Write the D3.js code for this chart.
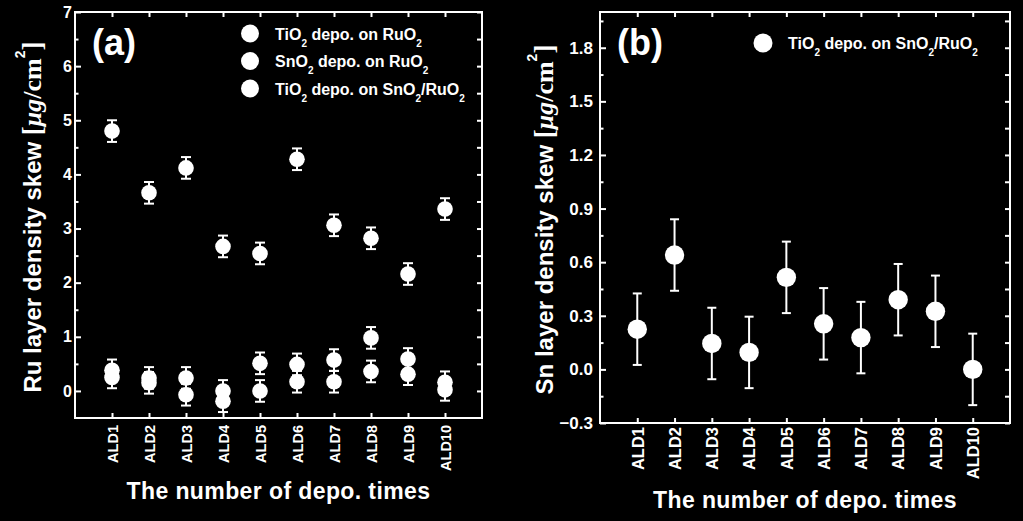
<!DOCTYPE html>
<html><head><meta charset="utf-8">
<script src="https://cdn.jsdelivr.net/npm/d3@7"></script>
<style>html,body{margin:0;padding:0;background:#000;} svg{display:block;}</style>
</head><body>
<svg id="chart" width="1023" height="521"></svg>
<script>
// ---------- DATA ----------
const categories = ["ALD1","ALD2","ALD3","ALD4","ALD5","ALD6","ALD7","ALD8","ALD9","ALD10"];

// Panel (a): Ru layer density skew [ug/cm2]
const ruTiO2OnRuO2      = [4.80, 3.66, 4.12, 2.67, 2.54, 4.28, 3.06, 2.82, 2.16, 3.36];
const ruTiO2OnRuO2Err   = [0.20, 0.20, 0.20, 0.20, 0.20, 0.20, 0.20, 0.20, 0.20, 0.20];
const ruSnO2OnRuO2      = [0.38, 0.24, 0.24, 0.00, 0.51, 0.49, 0.57, 0.98, 0.59, 0.16];
const ruSnO2OnRuO2Err   = [0.20, 0.20, 0.20, 0.20, 0.20, 0.20, 0.20, 0.20, 0.20, 0.20];
const ruTiO2OnSnO2      = [0.25, 0.15, -0.07, -0.19, 0.00, 0.17, 0.17, 0.36, 0.31, 0.02];
const ruTiO2OnSnO2Err   = [0.20, 0.20, 0.20, 0.20, 0.20, 0.20, 0.20, 0.20, 0.20, 0.20];

// Panel (b): Sn layer density skew [ug/cm2]
const snTiO2OnSnO2      = [0.225, 0.64, 0.145, 0.095, 0.515, 0.255, 0.178, 0.39, 0.325, 0.00];
const snTiO2OnSnO2Err   = [0.20, 0.20, 0.20, 0.20, 0.20, 0.20, 0.20, 0.20, 0.20, 0.20];

// Tick values
const aYDomain = [-0.5, 7];
const aYMajor = [0, 1, 2, 3, 4, 5, 6, 7];
const aYMinor = [0.5, 1.5, 2.5, 3.5, 4.5, 5.5, 6.5];
const bYDomain = [-0.3, 2.0];
const bYMajor = [-0.3, 0.0, 0.3, 0.6, 0.9, 1.2, 1.5, 1.8];
const bYMinor = [-0.15, 0.15, 0.45, 0.75, 1.05, 1.35, 1.65, 1.95];

// Legend entries (rich text parts: [text, isSubscript])
const aLegend = [
  [["TiO",0],["2",1],[" depo. on RuO",0],["2",1]],
  [["SnO",0],["2",1],[" depo. on RuO",0],["2",1]],
  [["TiO",0],["2",1],[" depo. on SnO",0],["2",1],["/RuO",0],["2",1]]
];
const bLegend = [
  [["TiO",0],["2",1],[" depo. on SnO",0],["2",1],["/RuO",0],["2",1]]
];

// ---------- DRAW ----------
const svg = d3.select("#chart");
svg.append("rect").attr("width",1023).attr("height",521).attr("fill","#000");
const SANS = "'Liberation Sans', Arial, sans-serif";
const SERIF = "'Liberation Serif', 'Times New Roman', serif";

function richText(sel, parts, size, subSize, subShift) {
  let shifted = false;
  parts.forEach(([t, sub]) => {
    const ts = sel.append("tspan").text(t);
    if (sub) { ts.attr("dy", subShift).attr("font-size", subSize); shifted = true; }
    else if (shifted) { ts.attr("dy", -subShift); shifted = false; }
  });
}

function drawPanel(p) {
  const x = d3.scalePoint().domain(categories).range([p.left, p.right]).padding(1);
  const y = d3.scaleLinear().domain(p.yDomain).range([p.bottom, p.top]);
  const g = svg.append("g");

  const styleAxis = (ax) => {
    ax.select(".domain").remove();
    ax.selectAll("line").attr("stroke", "#fff").attr("stroke-width", 2);
  };

  // left major
  const la = g.append("g").attr("transform", `translate(${p.left},0)`)
    .call(d3.axisLeft(y).tickValues(p.yMajor).tickSize(-6).tickPadding(p.yPad).tickFormat(p.fmt));
  styleAxis(la);
  la.selectAll("text").attr("fill", "#fff").attr("font-family", SANS)
    .attr("font-weight", "bold").attr("font-size", p.yFont);
  // left minor
  const lm = g.append("g").attr("transform", `translate(${p.left},0)`)
    .call(d3.axisLeft(y).tickValues(p.yMinor).tickSize(-3.5).tickFormat(""));
  styleAxis(lm);
  // right mirror
  const ra = g.append("g").attr("transform", `translate(${p.right},0)`)
    .call(d3.axisRight(y).tickValues(p.yMajor.concat(p.yMinor)).tickSize(-5).tickFormat(""));
  styleAxis(ra);
  // top mirror
  const ta = g.append("g").attr("transform", `translate(0,${p.top})`)
    .call(d3.axisTop(x).tickSize(-5).tickFormat(""));
  styleAxis(ta);
  // bottom
  const ba = g.append("g").attr("transform", `translate(0,${p.bottom})`)
    .call(d3.axisBottom(x).tickSize(-5));
  styleAxis(ba);
  ba.selectAll("text").attr("fill", "#fff").attr("font-family", SANS)
    .attr("font-weight", "bold").attr("font-size", p.xFont)
    .attr("transform", "rotate(-90)").attr("text-anchor", "end")
    .attr("x", -p.xGap).attr("y", 0).attr("dy", "0.35em");

  // frame
  g.append("rect").attr("x", p.left).attr("y", p.top)
    .attr("width", p.right - p.left).attr("height", p.bottom - p.top)
    .attr("fill", "none").attr("stroke", "#fff").attr("stroke-width", 2);

  // series
  p.series.forEach(s => {
    const sg = g.append("g");
    const pts = categories.map((c, i) => ({c, v: s.values[i], e: s.err[i]}));
    sg.selectAll("line.eb").data(pts).join("line").attr("class","eb")
      .attr("x1", d => x(d.c)).attr("x2", d => x(d.c))
      .attr("y1", d => y(d.v - d.e)).attr("y2", d => y(d.v + d.e))
      .attr("stroke", "#fff").attr("stroke-width", 2);
    sg.selectAll("line.cu").data(pts).join("line").attr("class","cu")
      .attr("x1", d => x(d.c) - p.cap).attr("x2", d => x(d.c) + p.cap)
      .attr("y1", d => y(d.v + d.e)).attr("y2", d => y(d.v + d.e))
      .attr("stroke", "#fff").attr("stroke-width", 2);
    sg.selectAll("line.cl").data(pts).join("line").attr("class","cl")
      .attr("x1", d => x(d.c) - p.cap).attr("x2", d => x(d.c) + p.cap)
      .attr("y1", d => y(d.v - d.e)).attr("y2", d => y(d.v - d.e))
      .attr("stroke", "#fff").attr("stroke-width", 2);
    sg.selectAll("circle").data(pts).join("circle")
      .attr("cx", d => x(d.c)).attr("cy", d => y(d.v)).attr("r", p.r)
      .attr("fill", "#fff");
  });

  // legend
  p.legend.forEach((parts, i) => {
    const cy = p.legY + i * 27.5;
    g.append("circle").attr("cx", p.legX).attr("cy", cy).attr("r", p.legR).attr("fill", "#fff");
    const t = g.append("text").attr("x", p.legX + 25).attr("y", cy + 6)
      .attr("fill", "#fff").attr("font-family", SANS).attr("font-weight", "bold")
      .attr("font-size", 16);
    richText(t, parts, 16, 10, 7);
  });

  // panel label
  g.append("text").attr("x", p.left + 17).attr("y", 55).attr("fill", "#fff")
    .attr("font-family", SANS).attr("font-weight", "bold").attr("font-size", 36)
    .text(p.label);

  // x title
  g.append("text").attr("x", (p.left + p.right) / 2).attr("y", p.xTitleY)
    .attr("text-anchor", "middle").attr("fill", "#fff").attr("font-family", SANS)
    .attr("font-weight", "bold").attr("font-size", 23).attr("letter-spacing", 0.4)
    .text("The number of depo. times");

  // y title
  const cy = (p.top + p.bottom) / 2 + 2;
  const yt = g.append("text").attr("transform", `translate(${p.yTitleX},${cy}) rotate(-90)`)
    .attr("text-anchor", "middle").attr("fill", "#fff");
  yt.append("tspan").attr("font-family", SANS).attr("font-weight", "bold").attr("font-size", 24)
    .text(p.yTitle + " ");
  yt.append("tspan").attr("font-family", SERIF).attr("font-weight", "bold").attr("font-size", 27).text("[");
  yt.append("tspan").attr("font-family", SERIF).attr("font-weight", "bold").attr("font-style", "italic").attr("font-size", 26).text("\u03bcg");
  yt.append("tspan").attr("font-family", SERIF).attr("font-weight", "bold").attr("font-size", 26).text("/cm");
  yt.append("tspan").attr("font-family", SANS).attr("font-weight", "bold").attr("font-size", 14)
    .attr("dy", -16).text("2");
  yt.append("tspan").attr("font-family", SERIF).attr("font-weight", "bold").attr("font-size", 27).attr("dy", 16).text("]");
}

drawPanel({
  left: 75, right: 482, top: 12, bottom: 418,
  yDomain: aYDomain, yMajor: aYMajor, yMinor: aYMinor, fmt: d3.format("d"),
  yPad: 3, yFont: 16, xFont: 14.5, xGap: 7, cap: 5, r: 7.8,
  series: [
    {values: ruTiO2OnRuO2, err: ruTiO2OnRuO2Err},
    {values: ruSnO2OnRuO2, err: ruSnO2OnRuO2Err},
    {values: ruTiO2OnSnO2, err: ruTiO2OnSnO2Err}
  ],
  legend: aLegend, legX: 250, legY: 33.5, legR: 9,
  label: "(a)", xTitleY: 499, yTitleX: 41, yTitle: "Ru layer density skew"
});

drawPanel({
  left: 600, right: 1010, top: 12, bottom: 423,
  yDomain: bYDomain, yMajor: bYMajor, yMinor: bYMinor, fmt: d3.format(".1f"),
  yPad: 7, yFont: 17, xFont: 16.5, xGap: 4, cap: 4.5, r: 9.7,
  series: [
    {values: snTiO2OnSnO2, err: snTiO2OnSnO2Err}
  ],
  legend: bLegend, legX: 763, legY: 43, legR: 9.5,
  label: "(b)", xTitleY: 508, yTitleX: 553, yTitle: "Sn layer density skew"
});
</script>
</body></html>
